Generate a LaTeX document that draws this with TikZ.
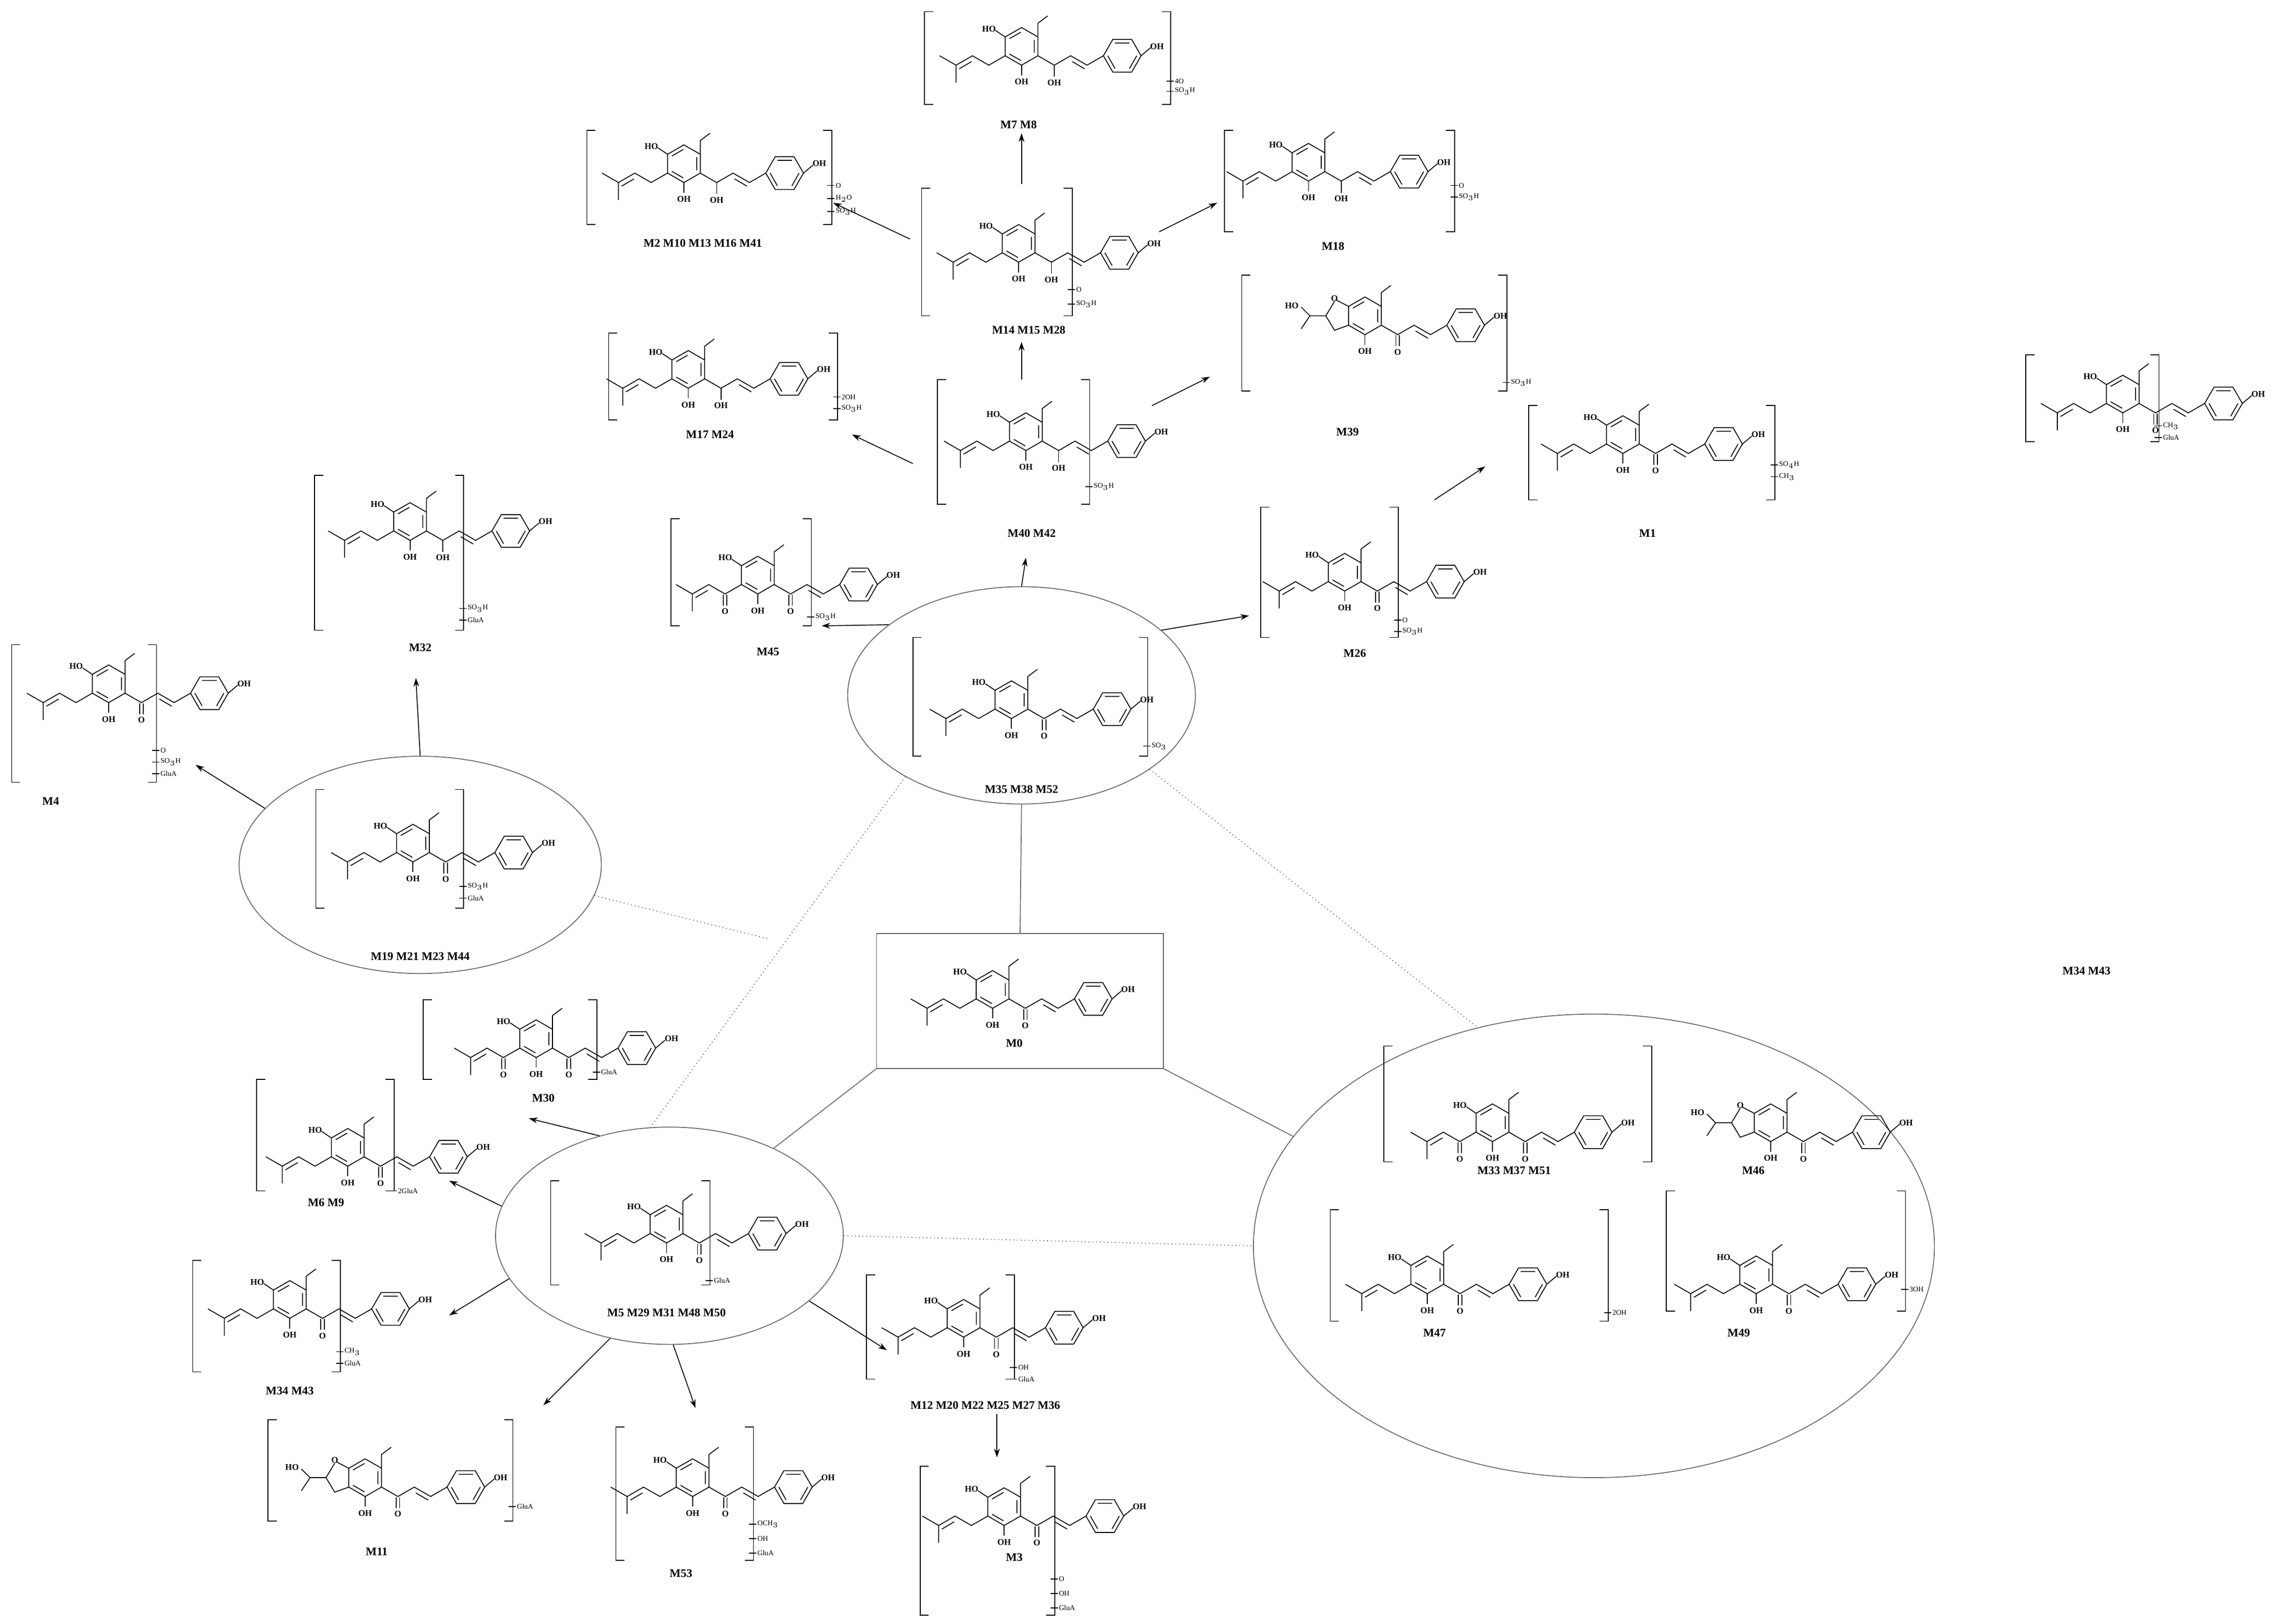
\documentclass[tikz,border=0pt]{standalone}
\usepackage{fontspec}
\setmainfont{Liberation Serif}
\usetikzlibrary{shapes.geometric,arrows.meta}
\begin{document}
\begin{tikzpicture}[x=1pt,y=-1pt,line width=0.6pt,
 atom/.style={font=\fontsize{6}{7}\selectfont\bfseries,inner sep=0.5pt},
 lab/.style={font=\fontsize{8}{9}\selectfont\bfseries},
 sd/.style={font=\fontsize{5}{6}\selectfont,inner sep=0.5pt,anchor=west},
 ar/.style={-{Stealth[length=6pt,width=4pt]},line width=0.6pt},
 link/.style={gray!80!black,line width=0.6pt},
 dlink/.style={gray!80!black,line width=0.6pt,dotted},
 core/.pic={
  \draw (0,-13)--(11.3,-6.5)--(11.3,6.5)--(0,13)--(-11.3,6.5)--(-11.3,-6.5)--cycle;
  \draw (8.8,-4.5)--(8.8,4.5) (-0.45,9.8)--(-8.35,5.3) (-8.35,-5.3)--(-0.45,-9.8);
  \draw (11.3,-6.5)--(11.3,-16)--(18,-21);
  \draw (0,13)--(0,20); \node[atom] at (0,24.5){OH};
  \draw (11.3,6.5)--(22.6,13)--(33.9,6.5)--(45.2,13)--(56.5,6.5);
  \draw (35,10.5)--(43.5,15.5);
  \draw (56.5,6.5)--(63,-4.8)--(76,-4.8)--(82.5,6.5)--(76,17.8)--(63,17.8)--cycle;
  \draw (64.5,-2.3)--(74.5,-2.3) (79.5,6.5)--(74.5,15.3) (64.5,15.3)--(59.5,6.5);
  \draw (82.5,6.5)--(89,1); \node[atom,anchor=west] at (88,0){OH};
 },
 co/.pic={\draw (21.4,13.5)--(21.4,21) (23.8,13.5)--(23.8,21); \node[atom] at (22.6,25){O};},
 ohc/.pic={\draw (22.6,13)--(22.6,21); \node[atom] at (22.6,25){OH};},
 ho/.pic={\draw (-11.3,-6.5)--(-18,-11); \node[atom,anchor=east] at (-17,-12){HO};},
 pren/.pic={\draw (-11.3,6.5)--(-22.6,13)--(-33.9,6.5)--(-45.2,13)--(-45.2,25) (-45.2,13)--(-56.5,6.5);
  \draw (-34.5,10.5)--(-43,15.5);},
 kpren/.pic={\draw (-11.3,6.5)--(-22.6,13)--(-33.9,6.5)--(-45.2,13)--(-45.2,25) (-45.2,13)--(-56.5,6.5);
  \draw (-34.5,10.5)--(-43,15.5) (-21.4,13.5)--(-21.4,21) (-23.8,13.5)--(-23.8,21); \node[atom] at (-22.6,25){O};},
 xan/.pic={\pic{core};\pic{co};\pic{ho};\pic{pren};},
 xanr/.pic={\pic{core};\pic{ohc};\pic{ho};\pic{pren};},
 ket/.pic={\pic{core};\pic{co};\pic{ho};\pic{kpren};},
 fur/.pic={
  \pic{core};\pic{co};
  \draw (-11.3,-6.5)--(-20,-11) (-11.3,6.5)--(-21,10)--(-27,0)--(-21,-10);
  \node[atom] at (-21,-12){O};
  \draw (-27,0)--(-38,0)--(-44,9) (-38,0)--(-44,-6);
  \node[atom,anchor=east] at (-45,-7){HO};
 }]
\useasboundingbox (0,0) rectangle (1568,1121);
\newcommand\brk[4]{\draw (#1+6,#2)--(#1,#2)--(#1,#4)--(#1+6,#4) (#3-6,#2)--(#3,#2)--(#3,#4)--(#3-6,#4);}
\newcommand\sd[3]{\draw (#1-5,#2)--(#1,#2); \node[sd] at (#1,#2){#3};}
\newcommand\mol[3]{\pic at (#1,#2){#3};}
% M7 M8
\mol{705}{32}{xanr} \brk{638}{8}{808}{72}
\sd{810}{56}{4O}\sd{810}{63}{SO$_3$H}\node[lab] at (703,86){M7 M8};
% M2
\mol{472}{113}{xanr} \brk{405}{90}{574}{155}
\sd{576}{128}{O}\sd{576}{137}{H$_2$O}\sd{576}{146}{SO$_3$H}\node[lab] at (485,168){M2 M10 M13 M16 M41};
% M14
\mol{703}{168}{xanr} \brk{636}{130}{740}{218}
\sd{742}{200}{O}\sd{742}{210}{SO$_3$H}\node[lab] at (710,228){M14 M15 M28};
% M18
\mol{903}{112}{xanr} \brk{845}{90}{1004}{160}
\sd{1006}{128}{O}\sd{1006}{136}{SO$_3$H}\node[lab] at (920,170){M18};
% M17
\mol{475}{255}{xanr} \brk{420}{230}{578}{290}
\sd{580}{274}{2OH}\sd{580}{282}{SO$_3$H}\node[lab] at (490,300){M17 M24};
% M39
\mol{942}{218}{fur} \brk{857}{190}{1040}{270}
\sd{1042}{264}{SO$_3$H}\node[lab] at (930,298){M39};
% M40
\mol{708}{298}{xanr} \brk{647}{262}{752}{348}
\sd{754}{336}{SO$_3$H}\node[lab] at (712,368){M40 M42};
% M1
\mol{1120}{300}{xan} \brk{1055}{280}{1225}{345}
\sd{1227}{321}{SO$_4$H}\sd{1227}{329}{CH$_3$}\node[lab] at (1137,368){M1};
% right isolated
\mol{1465}{272}{xan} \brk{1398}{245}{1490}{305}
\sd{1492}{294}{CH$_3$}\sd{1492}{302}{GluA}
\node[lab] at (1440,670){M34 M43};
% M32
\mol{283}{360}{xanr} \brk{217}{328}{320}{435}
\sd{322}{420}{SO$_3$H}\sd{322}{428}{GluA}\node[lab] at (290,447){M32};
% M45
\mol{523}{397}{ket} \brk{463}{358}{560}{432}
\sd{562}{426}{SO$_3$H}\node[lab] at (530,450){M45};
% M26
\mol{928}{395}{xan} \brk{870}{350}{965}{440}
\sd{967}{428}{O}\sd{967}{436}{SO$_3$H}\node[lab] at (935,451){M26};
% M4
\mol{75}{472}{xan} \brk{8}{445}{108}{540}
\sd{110}{518}{O}\sd{110}{526}{SO$_3$H}\sd{110}{534}{GluA}\node[lab] at (35,553){M4};
% center ellipse
\node[draw,gray!80!black,ellipse,minimum width=240pt,minimum height=150pt] (E1) at (705,480){};
\mol{698}{483}{xan} \brk{630}{440}{792}{522}
\sd{794}{515}{SO$_3$}\node[lab] at (705,545){M35 M38 M52};
% left ellipse
\node[draw,gray!80!black,ellipse,minimum width=250pt,minimum height=150pt] (E2) at (290,597){};
\mol{285}{582}{xan} \brk{218}{545}{320}{627}
\sd{322}{612}{SO$_3$H}\sd{322}{620}{GluA}\node[lab] at (290,660){M19 M21 M23 M44};
% M0 box
\node[draw,gray!80!black,minimum width=198pt,minimum height=93pt] (B0) at (704,691){};
\mol{685}{683}{xan} \node[lab] at (700,720){M0};
% M30
\mol{370}{717}{ket} \brk{292}{690}{412}{745}
\sd{414}{740}{GluA}\node[lab] at (375,758){M30};
% M6 M9
\mol{240}{792}{xan} \brk{177}{745}{272}{822}
\sd{274}{822}{2GluA}\node[lab] at (225,830){M6 M9};
% bottom ellipse
\node[draw,gray!80!black,ellipse,minimum width=240pt,minimum height=150pt] (E3) at (462,853){};
\mol{460}{845}{xan} \brk{380}{815}{490}{887}
\sd{492}{884}{GluA}\node[lab] at (460,906){M5 M29 M31 M48 M50};
% M34 M43
\mol{200}{897}{xan} \brk{133}{870}{235}{947}
\sd{237}{933}{CH$_3$}\sd{237}{941}{GluA}\node[lab] at (200,960){M34 M43};
% M11
\mol{252}{1020}{fur} \brk{185}{980}{354}{1050}
\sd{356}{1040}{GluA}\node[lab] at (260,1071){M11};
% M53
\mol{478}{1020}{xan} \brk{425}{985}{520}{1077}
\sd{522}{1052}{OCH$_3$}\sd{522}{1062}{OH}\sd{522}{1072}{GluA}\node[lab] at (470,1086){M53};
% M12
\mol{665}{910}{xan} \brk{598}{880}{700}{952}
\sd{702}{944}{OH}\sd{702}{952}{GluA}\node[lab] at (680,970){M12 M20 M22 M25 M27 M36};
% M3
\mol{693}{1040}{xan} \brk{635}{1012}{728}{1115}
\sd{730}{1090}{O}\sd{730}{1100}{OH}\sd{730}{1110}{GluA}\node[lab] at (700,1075){M3};
% big ellipse
\node[draw,gray!80!black,ellipse,minimum width=470pt,minimum height=320pt] (E4) at (1100,860){};
\mol{1030}{775}{ket} \brk{955}{722}{1140}{802}\node[lab] at (1045,808){M33 M37 M51};
\mol{1222}{775}{fur} \node[lab] at (1210,808){M46};
\mol{985}{880}{xan} \brk{918}{835}{1110}{912}\sd{1112}{906}{2OH}\node[lab] at (990,920){M47};
\mol{1212}{880}{xan} \brk{1150}{822}{1315}{905}\sd{1317}{890}{3OH}\node[lab] at (1200,920){M49};
% arrows
\coordinate (a1) at (705,127); \coordinate (b1) at (705,92);
\coordinate (a2) at (628,165); \coordinate (b2) at (575,140);
\coordinate (a3) at (800,160); \coordinate (b3) at (840,140);
\coordinate (a4) at (705,262); \coordinate (b4) at (705,236);
\coordinate (a5) at (630,320); \coordinate (b5) at (588,300);
\coordinate (a6) at (795,280); \coordinate (b6) at (835,260);
\coordinate (a7) at (990,345); \coordinate (b7) at (1025,322);
\coordinate (b8) at (708,385); \coordinate (b9) at (567,432); \coordinate (b10) at (862,425);
\coordinate (b11) at (287,468); \coordinate (b12) at (135,528);
\coordinate (b13) at (365,772); \coordinate (b14) at (310,815); \coordinate (b15) at (310,908);
\coordinate (b16) at (375,970); \coordinate (b17) at (480,972); \coordinate (b18) at (612,932);
\coordinate (a19) at (688,976); \coordinate (b19) at (688,1006);
\foreach \a/\b in {a1/b1,a2/b2,a3/b3,a4/b4,a5/b5,a6/b6,a7/b7,a19/b19} \draw[ar] (\a)--(\b);
\draw[ar] (E1.90)--(b8); \draw[ar] (E1.152)--(b9); \draw[ar] (E1.25)--(b10);
\draw[ar] (E2.90)--(b11); \draw[ar] (E2.160)--(b12);
\draw[ar] (E3.125)--(b13); \draw[ar] (E3.170)--(b14); \draw[ar] (E3.195)--(b15);
\draw[ar] (E3.240)--(b16); \draw[ar] (E3.272)--(b17); \draw[ar] (E3.335)--(b18);
% links
\draw[link] (E1.south)--(B0.north);
\draw[link] (B0.south west)--(E3.40);
\draw[link] (B0.south east)--(E4.160);
\draw[dlink] (E3.east)--(E4.west);
\draw[dlink] (E1.215)--(E3.100);
\draw[dlink] (E2.350)--(530,648);
\draw[dlink] (E1.330)--(E4.118);
\end{tikzpicture}
\end{document}
